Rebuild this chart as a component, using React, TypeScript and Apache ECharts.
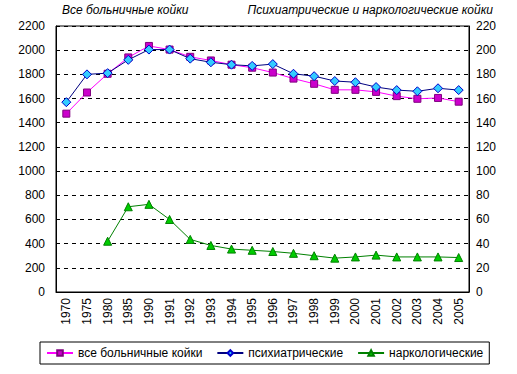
import React, { useEffect, useRef } from "react";
import * as echarts from "echarts";

const years = ["1970","1975","1980","1985","1990","1991","1992","1993","1994","1995","1996","1997","1998","1999","2000","2001","2002","2003","2004","2005"];
const allBeds = [1475,1650,1805,1940,2035,2005,1945,1915,1880,1855,1815,1765,1722,1672,1672,1655,1620,1598,1605,1574];
const psychBeds = [157,180,181,192,200.5,200.5,193,190,188,187,188.5,180.5,178.5,174.5,173.5,169.5,167,166,168.5,167];
const narcoBeds: (number | null)[] = [null,null,42,70.5,72.5,60,43.5,38.5,35.5,34.5,33.5,32,30,28,29,30.5,29,29,29,28.5];
const leftTicks = { min: 0, max: 2200, interval: 200 };
const rightTicks = { min: 0, max: 220, interval: 20 };
const seriesNames = ["все больничные койки", "психиатрические", "наркологические"];
const leftTitle = "Все больничные койки";
const rightTitle = "Психиатрические и наркологические койки";

const FONT = "Arial, 'Liberation Sans', sans-serif";

export default function App() {
  const ref = useRef<HTMLDivElement>(null);
  useEffect(() => {
    if (!ref.current) return;
    const chart = echarts.init(ref.current, undefined, { renderer: "svg" });
    chart.setOption({
      animation: false,
      backgroundColor: "#fff",
      textStyle: { fontFamily: FONT },
      title: [
        { text: leftTitle, left: 60, top: 1, padding: 2, textStyle: { fontSize: 12, lineHeight: 14, fontStyle: "italic", fontWeight: "normal", color: "#000", fontFamily: FONT } },
        { text: rightTitle, right: 22, top: 1, padding: 2, textStyle: { fontSize: 12, lineHeight: 14, fontStyle: "italic", fontWeight: "normal", color: "#000", fontFamily: FONT } },
      ],
      grid: { left: 56, right: 48, top: 26, bottom: 82, show: true, borderColor: "#000", borderWidth: 1, backgroundColor: "#fff" },
      legend: {
        data: seriesNames,
        left: 40,
        top: 342,
        width: 442,
        padding: [5, 6, 5, 6],
        borderColor: "#000",
        borderWidth: 1,
        itemWidth: 26,
        itemHeight: 7,
        itemGap: 14,
        textStyle: { fontSize: 12, color: "#000", fontFamily: FONT },
      },
      xAxis: {
        type: "category",
        data: years,
        boundaryGap: true,
        axisLine: { lineStyle: { color: "#000" } },
        axisTick: { show: false },
        axisLabel: { rotate: 90, fontSize: 12, color: "#000", margin: 6, interval: 0, fontFamily: FONT },
        splitLine: { show: false },
      },
      yAxis: [
        {
          type: "value",
          ...leftTicks,
          axisLine: { show: true, lineStyle: { color: "#000" } },
          axisTick: { show: false },
          axisLabel: { fontSize: 12, color: "#000", margin: 11, fontFamily: FONT, formatter: (v: number) => String(v) },
          splitLine: { show: true, lineStyle: { color: "#000", type: [4, 4], width: 1 } },
        },
        {
          type: "value",
          ...rightTicks,
          position: "right",
          axisLine: { show: true, lineStyle: { color: "#000" } },
          axisTick: { show: false },
          axisLabel: { fontSize: 12, color: "#000", margin: 7, fontFamily: FONT, formatter: (v: number) => String(v) },
          splitLine: { show: false },
        },
      ],
      series: [
        {
          name: seriesNames[0],
          type: "line",
          data: allBeds,
          yAxisIndex: 0,
          symbol: "rect",
          symbolSize: 7,
          showAllSymbol: true,
          lineStyle: { color: "#FF00FF", width: 1 },
          itemStyle: { color: "#CC00CC", borderColor: "#800080", borderWidth: 1 },
          z: 3,
        },
        {
          name: seriesNames[1],
          type: "line",
          data: psychBeds,
          yAxisIndex: 1,
          symbol: "diamond",
          symbolSize: 9,
          showAllSymbol: true,
          lineStyle: { color: "#000080", width: 1 },
          itemStyle: { color: "#33CCFF", borderColor: "#0000CC", borderWidth: 1 },
          z: 4,
        },
        {
          name: seriesNames[2],
          type: "line",
          data: narcoBeds,
          yAxisIndex: 1,
          symbol: "triangle",
          symbolSize: 8,
          showAllSymbol: true,
          connectNulls: false,
          lineStyle: { color: "#008000", width: 1 },
          itemStyle: { color: "#00CC00", borderColor: "#008000", borderWidth: 1 },
          z: 3,
        },
      ],
    });
    return () => chart.dispose();
  }, []);
  return <div ref={ref} style={{ width: 517, height: 374, position: "absolute", left: 0, top: 0 }} />;
}
